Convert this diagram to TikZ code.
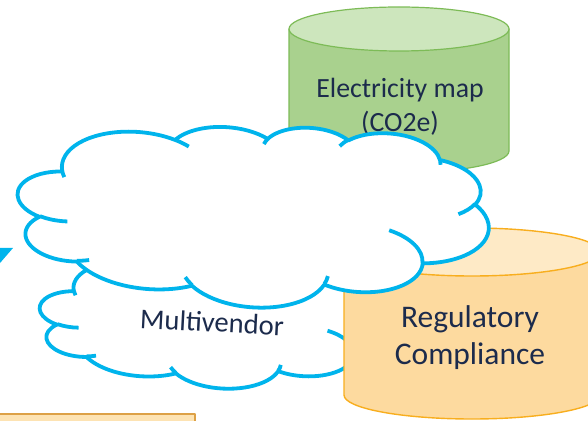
\documentclass[tikz,border=0pt]{standalone}
\usepackage{fontspec}
\setmainfont{Carlito}
\usepackage{tikz}
\usetikzlibrary{calc}
\usetikzlibrary{positioning}

\definecolor{cloudblue}{HTML}{00B4EC}
\definecolor{navytext}{HTML}{1C2B4C}
\definecolor{greenbody}{HTML}{A9D18E}
\definecolor{greentop}{HTML}{CDE6BD}
\definecolor{greenline}{HTML}{7DBB57}
\definecolor{goldbody}{HTML}{FDDA9F}
\definecolor{goldtop}{HTML}{FEEAC6}
\definecolor{goldline}{HTML}{F8AE1E}
\definecolor{boxfill}{HTML}{FDE3B3}
\definecolor{boxline}{HTML}{DDA146}

% ray angle on an ellipse -> parametric angle, as arc wants it
\pgfmathdeclarefunction{visang}{3}{%
	\begingroup
		\pgfmathparse{atan2(#1*sin(#3),#2*cos(#3))}%
		\let\paramang\pgfmathresult
		\pgfmathparse{\paramang+360*round((#3-(\paramang))/360)}%
		\pgfmathsmuggle\pgfmathresult
	\endgroup}

\begin{document}
\begin{tikzpicture}[
		x=1pt,
		y=1pt,
		line join=round
		]
		% Puffs of the cloud outline: x radius / y radius / start / sweep.
			\def\cloudpuffs{6.753/9.190/-190.4875/123.7805, 5.333/7.267/-144.1024/89.9452,
				4.365/5.945/-145.8079/99.7230, 4.857/6.595/-130.9861/117.2417,
				5.333/7.273/-78.7089/109.0269, 6.775/9.220/-46.2673/130.2690,
				5.785/7.867/0.6250/114.0333, 6.752/9.215/22.4516/115.1726,
				7.720/10.543/66.2426/75.7110, 4.360/5.918/-274.9421/146.7356,
				4.345/5.945/-246.8285/152.5189}
		% Inner folds: start x / start y / x radius / y radius / start / sweep.
			\def\cloudfolds{4.693/26.177/4.345/5.945/86.7420/26.4295,
				6.928/34.899/4.360/5.918/73.6105/11.4475,
				16.478/39.090/6.752/9.215/137.6242/14.0811,
				28.827/34.751/6.752/9.215/6.4533/15.9984,
				34.129/22.954/5.785/7.867/-70.2924/70.9174,
				41.798/15.354/5.333/7.273/30.3180/27.7515,
				38.324/5.426/4.857/6.595/-13.7443/14.8589,
				29.078/3.952/4.857/6.595/-149.1815/18.1954,
				22.141/4.720/4.365/5.945/-163.4943/17.6864,
				14.000/5.192/6.753/9.190/-66.7070/12.3194,
				4.127/15.789/6.753/9.190/157.6544/11.8582}
		\tikzstyle{cloud line}=[
			draw=cloudblue,
			line width=3.8pt,
			fill=white
		]
		\tikzstyle{cloud fold}=[
			draw=cloudblue,
			line width=3.8pt
		]
		\tikzstyle{electricity body}=[
			fill=greenbody,
			draw=greenline,
			line width=1.2pt
		]
		\tikzstyle{electricity top}=[
			electricity body,
			fill=greentop
		]
		\tikzstyle{compliance body}=[
			fill=goldbody,
			draw=goldline,
			line width=1.4pt
		]
		\tikzstyle{compliance top}=[
			compliance body,
			fill=goldtop
		]
		\tikzstyle{label text}=[
			text=navytext,
			align=center,
			inner sep=0pt
		]
		\useasboundingbox (0,0) rectangle (588,420);
		\clip (0,0) rectangle (588,420);
		% Draw the electricity map database.
			\filldraw[electricity body] (289,391) -- (289,269)
				arc[start angle=180, end angle=360, x radius=110, y radius=22] -- (509,391) -- cycle;
			\filldraw[electricity top] (399,391) ellipse[x radius=110, y radius=22];
			\node[label text, font=\fontsize{27.8}{34}\selectfont] (elec) at (400,313) {Electricity map\\(CO2e)};
		% Draw the multivendor cloud.
			\begin{scope}[shift={(222,99)}, rotate=-3, xscale=8.45, yscale=-3.10, shift={(-21.6,-21.6)}]
				\filldraw[cloud line] (3.900,14.370)
					\foreach \wr/\hr/\sa/\da in \cloudpuffs
					{ arc[x radius=\wr, y radius=\hr, start angle={visang(\wr,\hr,\sa)}, end angle={visang(\wr,\hr,\sa+\da)}] }
					-- cycle;
				\draw[cloud fold]
					\foreach \px/\py/\wr/\hr/\sa/\da in \cloudfolds
					{ (\px,\py) arc[x radius=\wr, y radius=\hr, start angle={visang(\wr,\hr,\sa)}, end angle={visang(\wr,\hr,\sa+\da)}] };
			\end{scope}
			\node[label text, rotate=-3, font=\fontsize{28.6}{34}\selectfont] (multi) at (212,98) {Multivendor};
		% Draw the regulatory compliance database.
			\filldraw[compliance body] (344,168) -- (344,25)
				arc[start angle=180, end angle=360, x radius=128, y radius=24] -- (600,168) -- cycle;
			\filldraw[compliance top] (472,168) ellipse[x radius=128, y radius=24];
			\node[label text, font=\fontsize{31.5}{37}\selectfont] (reg) at (470,82) {Regulatory\\Compliance};
		% Draw the front cloud.
			\begin{scope}[shift={(253,205)}, rotate=-4, xscale=10.926, yscale=-4.236, shift={(-21.6,-21.6)}]
				\filldraw[cloud line] (3.900,14.370)
					\foreach \wr/\hr/\sa/\da in \cloudpuffs
					{ arc[x radius=\wr, y radius=\hr, start angle={visang(\wr,\hr,\sa)}, end angle={visang(\wr,\hr,\sa+\da)}] }
					-- cycle;
				\draw[cloud fold]
					\foreach \px/\py/\wr/\hr/\sa/\da in \cloudfolds
					{ (\px,\py) arc[x radius=\wr, y radius=\hr, start angle={visang(\wr,\hr,\sa)}, end angle={visang(\wr,\hr,\sa+\da)}] };
			\end{scope}
		% Arrow head coming in from the left edge.
			\fill[cloudblue] (-3,172) -- (13,172) -- (-3,153.5) -- cycle;
		% Box along the bottom edge.
			\filldraw[fill=boxfill, draw=boxline, line width=1.5pt] (-5,-10) rectangle (195,6);
	\end{tikzpicture}
\end{document}
